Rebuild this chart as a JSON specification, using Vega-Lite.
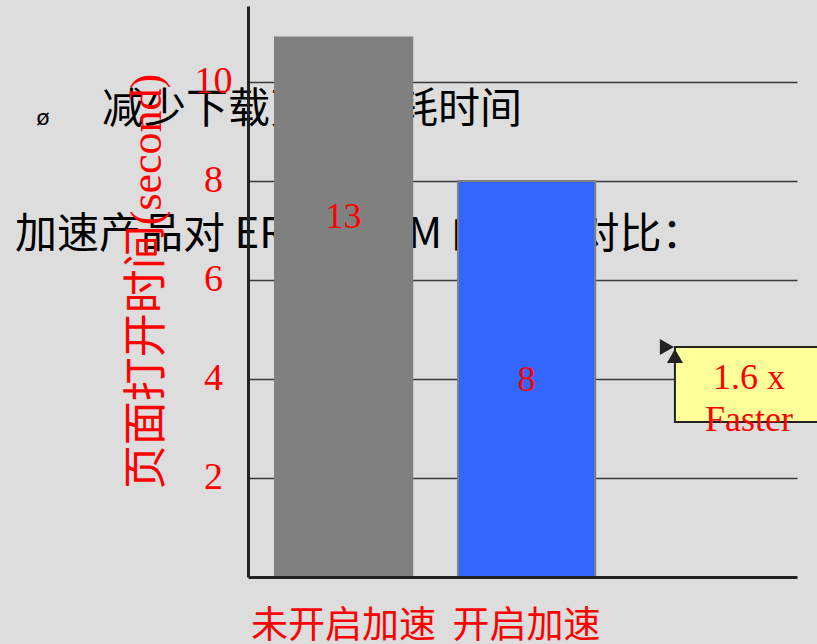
{
  "$schema": "https://vega.github.io/schema/vega-lite/v6.json",
  "autosize": "none",
  "width": 549,
  "height": 571,
  "padding": {"left": 248, "top": 6, "right": 20, "bottom": 67},
  "background": "#dddddd",
  "config": {"view": {"stroke": null}},
  "datasets": {
    "bars": [
      {"cond": "未开启加速", "time": 10.9, "label": "13", "labelPos": 7.27},
      {"cond": "开启加速", "time": 8.0, "label": "8", "labelPos": 3.98}
    ],
    "slide": [
      {"t": "减少下载页面所耗时间", "px": -0.798, "py": 9.434},
      {"t": "加速产品对 ERP、CRM 的加速对比：", "px": -1.273, "py": 6.909}
    ],
    "bullet": [
      {"t": "ø", "px": -1.12, "py": 9.273}
    ],
    "box": [
      {"bx": 2.333, "bx2": 3.3, "by": 4.646, "by2": 3.131}
    ],
    "arrows": [
      {"dir": "right", "ax": 2.289, "ay": 4.646},
      {"dir": "up", "ax": 2.333, "ay": 4.465}
    ],
    "note": [
      {"t": "1.6 x\nFaster", "nx": 2.738, "ny": 4.02}
    ]
  },
  "resolve": {"scale": {"x": "independent"}, "axis": {"x": "independent", "y": "independent"}},
  "layer": [
    {
      "data": {"name": "slide"},
      "mark": {"type": "text", "font": "Noto Sans CJK SC", "fontSize": 42, "align": "left", "baseline": "middle", "color": "#000000"},
      "encoding": {
        "x": {"field": "px", "type": "quantitative", "scale": {"domain": [0, 3], "nice": false, "zero": false}, "axis": null},
        "y": {
          "field": "py", "type": "quantitative",
          "scale": {"domain": [0, 11.535], "nice": false},
          "axis": {
            "orient": "left",
            "title": "页面打开时间(second)", "values": [2, 4, 6, 8, 10],
            "titleFont": "Liberation Serif, 'Noto Sans CJK SC'", "titleFontSize": 44, "titleFontWeight": "normal",
            "titleColor": "#ff0000", "titlePadding": 25, "titleY": 275,
            "labelColor": "#ff0000", "labelFont": "Liberation Serif", "labelFontSize": 38,
            "labelAlign": "center", "labelBaseline": "middle", "labelPadding": 35,
            "ticks": false, "tickSize": 0, "domainColor": "#222222", "domainWidth": 3,
            "grid": false, "zindex": 1
          }
        },
        "text": {"field": "t"}
      }
    },
    {
      "data": {"name": "bullet"},
      "mark": {"type": "text", "font": "DejaVu Sans", "fontSize": 22, "align": "center", "baseline": "middle", "color": "#000000"},
      "encoding": {
        "x": {"field": "px", "type": "quantitative", "scale": {"domain": [0, 3], "nice": false, "zero": false}, "axis": null},
        "y": {"field": "py", "type": "quantitative", "scale": {"domain": [0, 11.535], "nice": false}, "axis": null},
        "text": {"field": "t"}
      }
    },
    {
      "data": {"name": "bars"},
      "mark": {"type": "bar", "stroke": "#808080", "strokeWidth": 2},
      "encoding": {
        "x": {
          "field": "cond", "type": "nominal", "sort": null,
          "scale": {"type": "band", "paddingInner": 0.25, "paddingOuter": 0.625, "align": 0.118},
          "axis": {
            "title": null, "labelAngle": 0, "labelColor": "#ff0000", "labelFont": "Noto Sans CJK SC",
            "labelFontSize": 37, "labelBaseline": "middle", "labelPadding": 49, "labelLimit": 400,
            "ticks": false, "tickSize": 0, "domainColor": "#222222", "domainWidth": 3, "grid": false, "zindex": 1
          }
        },
        "y": {
          "field": "time", "type": "quantitative",
          "scale": {"domain": [0, 11.535], "nice": false},
          "axis": {
            "orient": "left", "title": null, "values": [2, 4, 6, 8, 10],
            "labels": false, "ticks": false, "domain": false,
            "grid": true, "gridColor": "#3a3a3a", "gridWidth": 1.5,
            "minExtent": 0, "maxExtent": 0, "zindex": 0
          }
        },
        "color": {
          "field": "cond", "type": "nominal", "sort": null,
          "scale": {"domain": ["未开启加速", "开启加速"], "range": ["#808080", "#3366ff"]},
          "legend": null
        }
      }
    },
    {
      "data": {"name": "bars"},
      "mark": {"type": "text", "font": "Liberation Serif", "fontSize": 36, "color": "#ff0000", "align": "center", "baseline": "middle"},
      "encoding": {
        "x": {"field": "cond", "type": "nominal", "sort": null, "scale": {"type": "band", "paddingInner": 0.25, "paddingOuter": 0.625, "align": 0.118}, "axis": null},
        "y": {"field": "labelPos", "type": "quantitative", "scale": {"domain": [0, 11.535], "nice": false}, "axis": null},
        "text": {"field": "label"}
      }
    },
    {
      "data": {"name": "box"},
      "mark": {"type": "rect", "fill": "#ffff99", "stroke": "#222222", "strokeWidth": 2},
      "encoding": {
        "x": {"field": "bx", "type": "quantitative", "scale": {"domain": [0, 3], "nice": false, "zero": false}, "axis": null},
        "x2": {"field": "bx2"},
        "y": {"field": "by", "type": "quantitative", "scale": {"domain": [0, 11.535], "nice": false}, "axis": null},
        "y2": {"field": "by2"}
      }
    },
    {
      "data": {"name": "arrows"},
      "mark": {"type": "point", "filled": true, "color": "#222222", "opacity": 1, "size": 260},
      "encoding": {
        "x": {"field": "ax", "type": "quantitative", "scale": {"domain": [0, 3], "nice": false, "zero": false}, "axis": null},
        "y": {"field": "ay", "type": "quantitative", "scale": {"domain": [0, 11.535], "nice": false}, "axis": null},
        "shape": {"field": "dir", "type": "nominal", "scale": {"domain": ["right", "up"], "range": ["triangle-right", "triangle-up"]}, "legend": null}
      }
    },
    {
      "data": {"name": "note"},
      "mark": {"type": "text", "font": "Liberation Serif", "fontSize": 36, "color": "#ff0000", "align": "center", "baseline": "middle", "lineBreak": "\n", "lineHeight": 42},
      "encoding": {
        "x": {"field": "nx", "type": "quantitative", "scale": {"domain": [0, 3], "nice": false, "zero": false}, "axis": null},
        "y": {"field": "ny", "type": "quantitative", "scale": {"domain": [0, 11.535], "nice": false}, "axis": null},
        "text": {"field": "t"}
      }
    }
  ]
}
